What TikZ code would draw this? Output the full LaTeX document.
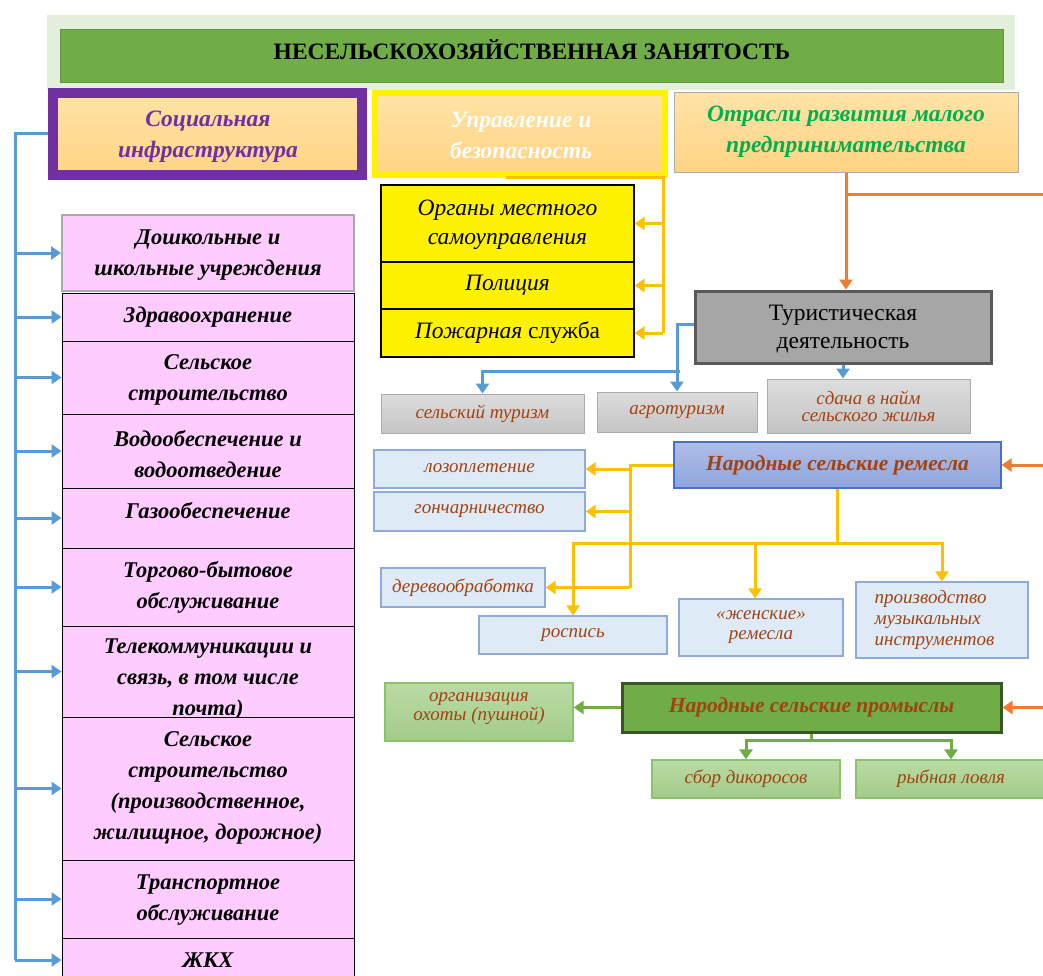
\documentclass[tikz,border=0pt]{standalone}
\usepackage{fontspec}
\setmainfont{Liberation Serif}
\usetikzlibrary{arrows.meta}
\definecolor{bandgreen}{HTML}{E2EFDA}
\definecolor{titlegreen}{HTML}{70AD47}
\definecolor{socpurple}{HTML}{7030A0}
\definecolor{peachtop}{HTML}{FFE3A6}
\definecolor{peachbot}{HTML}{FFD483}
\definecolor{pinkfill}{HTML}{FFCCFF}
\definecolor{lineblue}{HTML}{5B9BD5}
\definecolor{goldline}{HTML}{FFC000}
\definecolor{orangeline}{HTML}{ED7D31}
\definecolor{brownred}{HTML}{A3410F}
\definecolor{txtgreen}{HTML}{00B050}
\definecolor{turgray}{HTML}{A6A6A6}
\definecolor{turborder}{HTML}{595959}
\definecolor{lgtop}{HTML}{DDDDDD}
\definecolor{lgbot}{HTML}{C4C4C4}
\definecolor{lgborder}{HTML}{ABABAB}
\definecolor{remtop}{HTML}{AFBDE8}
\definecolor{rembot}{HTML}{8EA5DD}
\definecolor{remborder}{HTML}{4472C4}
\definecolor{lbfill}{HTML}{DEEBF7}
\definecolor{lbborder}{HTML}{8FAADC}
\definecolor{promborder}{HTML}{385723}
\definecolor{ltgtop}{HTML}{BADBA5}
\definecolor{ltgbot}{HTML}{A2CB88}
\definecolor{ltgborder}{HTML}{8CC26B}
\begin{document}
\begin{tikzpicture}[x=1pt,y=-1pt,
  box/.style={rectangle, inner sep=0pt, align=center},
  headfont/.style={font=\fontsize{23.5}{31}\selectfont\bfseries\itshape},
  pinkbox/.style={box, fill=pinkfill, draw=black, line width=1pt, minimum width=292pt,
     font=\fontsize{22.5}{31}\selectfont\bfseries\itshape},
  pinktext/.style={box, font=\fontsize{22.5}{31}\selectfont\bfseries\itshape},
  yelbox/.style={box, fill=yellow, draw=black, line width=1.2pt, minimum width=253pt,
     font=\fontsize{23.5}{29}\selectfont},
  smallfont/.style={font=\fontsize{19}{19}\selectfont\itshape, text=brownred},
  graybox/.style={box, smallfont, top color=lgtop, bottom color=lgbot, draw=lgborder, line width=1pt},
  lbbox/.style={box, smallfont, fill=lbfill, draw=lbborder, line width=1.2pt},
  ltgbox/.style={box, smallfont, top color=ltgtop, bottom color=ltgbot, draw=ltgborder, line width=1.2pt},
  tip/.style={-{Triangle[length=10pt,width=13pt]}},
  blueconn/.style={draw=lineblue, line width=3pt},
  goldconn/.style={draw=goldline, line width=3pt},
  orangeconn/.style={draw=orangeline, line width=3pt},
  greenconn/.style={draw=titlegreen, line width=3pt}
]
\useasboundingbox (0,0) rectangle (1043,976);
\clip (0,0) rectangle (1043,976);
\fill[white] (0,0) rectangle (1043,976);

% header
\node[box, fill=bandgreen, minimum width=968pt, minimum height=75pt] (band) at (531,52.5) {};
\node[box, fill=titlegreen, draw=titlegreen!85!black, line width=0.8pt, minimum width=943pt, minimum height=53pt] (title) at (531.5,55.5) {};
\node[box, font=\fontsize{23.5}{26}\selectfont\bfseries] (titletext) at (532,50) {НЕСЕЛЬСКОХОЗЯЙСТВЕННАЯ ЗАНЯТОСТЬ};

% three category boxes
\node[box, headfont, text=socpurple, top color=peachtop, bottom color=peachbot, draw=socpurple, line width=10pt,
  minimum width=309pt, minimum height=82pt] (soc) at (207.5,134) {};
\node[box, headfont, text=socpurple] (soct) at (208,137) {Социальная\\инфраструктура};
\node[box, headfont, text=white, top color=peachtop, bottom color=peachbot, draw=yellow, line width=6pt,
  minimum width=290pt, minimum height=82pt] (upr) at (520,134) {};
\node[box, headfont, text=white] (uprt) at (521,135) {Управление и\\безопасность};
\node[box, headfont, text=txtgreen, top color=peachtop, bottom color=peachbot, draw=lgborder, line width=1pt,
  minimum width=344pt, minimum height=80pt] (otr) at (846,133) {};
\node[box, headfont, text=txtgreen] (otrt) at (846,132) {Отрасли развития малого\\предпринимательства};

% left column
\node[pinkbox, draw=lgborder, line width=2pt, minimum height=76pt] (b1) at (208,253) {};
\node[pinktext] (t1) at (208,255) {Дошкольные и\\школьные учреждения};
\node[pinkbox, minimum height=48pt] (b2) at (208,317) {Здравоохранение};
\node[pinkbox, minimum height=73pt] (b3) at (208,377.5) {};
\node[pinktext] (t3) at (208,380) {Сельское\\строительство};
\node[pinkbox, minimum height=74pt] (b4) at (208,451) {};
\node[pinktext] (t4) at (208,454) {Водообеспечение и\\водоотведение};
\node[pinkbox, minimum height=60pt] (b5) at (208,518) {};
\node[pinktext] (t5) at (208,511) {Газообеспечение};
\node[pinkbox, minimum height=78pt] (b6) at (208,587) {};
\node[pinktext] (t6) at (208,587) {Торгово-бытовое\\обслуживание};
\node[pinkbox, minimum height=91pt] (b7) at (208,671.5) {};
\node[pinktext] (t7) at (208,680) {Телекоммуникации и\\связь, в том числе\\почта)};
\node[pinkbox, minimum height=143pt] (b8) at (208,788.5) {};
\node[pinktext] (t8) at (208,788) {Сельское\\строительство\\(производственное,\\жилищное, дорожное)};
\node[pinkbox, minimum height=78pt] (b9) at (208,899) {};
\node[pinktext] (t9) at (208,900) {Транспортное\\обслуживание};
\node[pinkbox, minimum height=44pt] (b10) at (208,960) {ЖКХ};

\coordinate (bl) at (15,134);
\draw[blueconn] (soc.west) -- (bl) -- (bl |- b10.west);
\foreach \i in {1,...,10} {\draw[blueconn, tip] (bl |- b\i.west) -- (b\i.west);}

% management column
\node[yelbox, minimum height=77pt, font=\fontsize{23.5}{29}\selectfont\itshape] (o1) at (507.5,223.5) {};
\node[box, font=\fontsize{23.5}{29}\selectfont\itshape] (o1t) at (507.5,225) {Органы местного\\самоуправления};
\node[yelbox, minimum height=47pt, font=\fontsize{23.5}{29}\selectfont\itshape] (o2) at (507.5,285.5) {Полиция};
\node[yelbox, minimum height=48pt] (o3) at (507.5,333) {\textit{Пожарная} служба};
\coordinate (gl) at (663,178);
\draw[goldconn] ([xshift=-14pt]upr.south) -- (gl) -- (gl |- o3.east);
\foreach \n in {o1,o2,o3} {\draw[goldconn, tip] (gl |- \n.east) -- (\n.east);}

% tourism
\node[box, fill=turgray, draw=turborder, line width=3pt, minimum width=296pt, minimum height=72pt] (tur) at (843,327) {};
\node[box, font=\fontsize{23.5}{28}\selectfont] (turt) at (843,329) {Туристическая\\деятельность};
\coordinate (oc) at (846,195);
\coordinate (oe) at (1060,195);
\draw[orangeconn] (otr.south) -- (oc) -- (oe) -- (oe |- 0,708);
\draw[orangeconn, tip] (oc) -- (oc |- tur.north);

\node[graybox, minimum width=203pt, minimum height=39pt] (sel) at (482.5,413.5) {\raisebox{2pt}{сельский туризм}};
\node[graybox, minimum width=160pt, minimum height=40pt] (agro) at (677,412) {агротуризм};
\node[graybox, minimum width=203pt, minimum height=54pt, font=\fontsize{19}{17}\selectfont\itshape] (sda) at (868.5,406) {сдача в найм\\сельского жилья};
\draw[blueconn, tip] ([yshift=3pt]tur.west) -| (agro.north);
\coordinate (bj) at (680,371);
\draw[blueconn, tip] (bj) -| (sel.north);
\draw[blueconn, tip] (tur.south) -- (tur.south |- sda.north);

% crafts
\node[box, top color=remtop, bottom color=rembot, draw=remborder, line width=1.2pt, minimum width=327pt, minimum height=46pt,
  font=\fontsize{21.5}{24}\selectfont\bfseries\itshape, text=brownred] (rem) at (837.5,465) {Народные сельские ремесла};
\draw[orangeconn, tip] (oe |- rem.east) -- (rem.east);

\node[lbbox, minimum width=211pt, minimum height=38pt] (loz) at (479.5,469) {\raisebox{2pt}{лозоплетение}};
\node[lbbox, minimum width=211pt, minimum height=39pt] (gon) at (479.5,511.5) {гончарничество};
\node[lbbox, minimum width=164pt, minimum height=39pt] (der) at (463,587.5) {деревообработка};
\node[lbbox, minimum width=188pt, minimum height=38pt] (ros) at (573,635) {\raisebox{3pt}{роспись}};
\node[lbbox, minimum width=164pt, minimum height=57pt, font=\fontsize{19}{20}\selectfont\itshape] (zhen) at (761,627.5) {«женские»\\ремесла};
\node[lbbox, minimum width=172pt, minimum height=76pt, align=left, font=\fontsize{19}{21}\selectfont\itshape] (muz) at (942,620)
  {\hspace*{-15pt}производство\\\hspace*{-15pt}музыкальных\\\hspace*{-15pt}инструментов};

\coordinate (gk) at (630,465);
\draw[goldconn] (rem.west) -- (gk) -- (gk |- der.east);
\foreach \n in {loz,gon,der} {\draw[goldconn, tip] (gk |- \n.east) -- (\n.east);}
\coordinate (gm) at (837.5,543);
\draw[goldconn] (rem.south) -- (gm);
\draw[goldconn, tip] (gm) -| (ros.north);
\draw[goldconn, tip] (gm) -| (muz.north);
\draw[goldconn, tip] ([xshift=-6pt]zhen.north |- gm) -- ([xshift=-6pt]zhen.north);

% trades
\node[box, fill=titlegreen, draw=promborder, line width=3pt, minimum width=379pt, minimum height=49pt,
  font=\fontsize{21.5}{24}\selectfont\bfseries\itshape, text=brownred] (prom) at (811.5,707.5) {Народные сельские промыслы};
\draw[orangeconn, tip] (oe |- prom.east) -- (prom.east);

\node[ltgbox, minimum width=188pt, minimum height=58pt] (oho) at (479,712) {};
\node[box, smallfont] (ohot) at (479,709) {организация\\охоты (пушной)};
\node[ltgbox, minimum width=188pt, minimum height=38pt] (sbor) at (746,779) {сбор дикоросов};
\node[ltgbox, minimum width=190pt, minimum height=38pt] (ryba) at (951,779) {рыбная ловля};
\draw[greenconn, tip] (prom.west) -- (prom.west -| oho.east);
\coordinate (gg) at (811.5,740);
\draw[greenconn] (prom.south) -- (gg);
\draw[greenconn, tip] (gg) -| (sbor.north);
\draw[greenconn, tip] (gg) -| (ryba.north);
\end{tikzpicture}
\end{document}
